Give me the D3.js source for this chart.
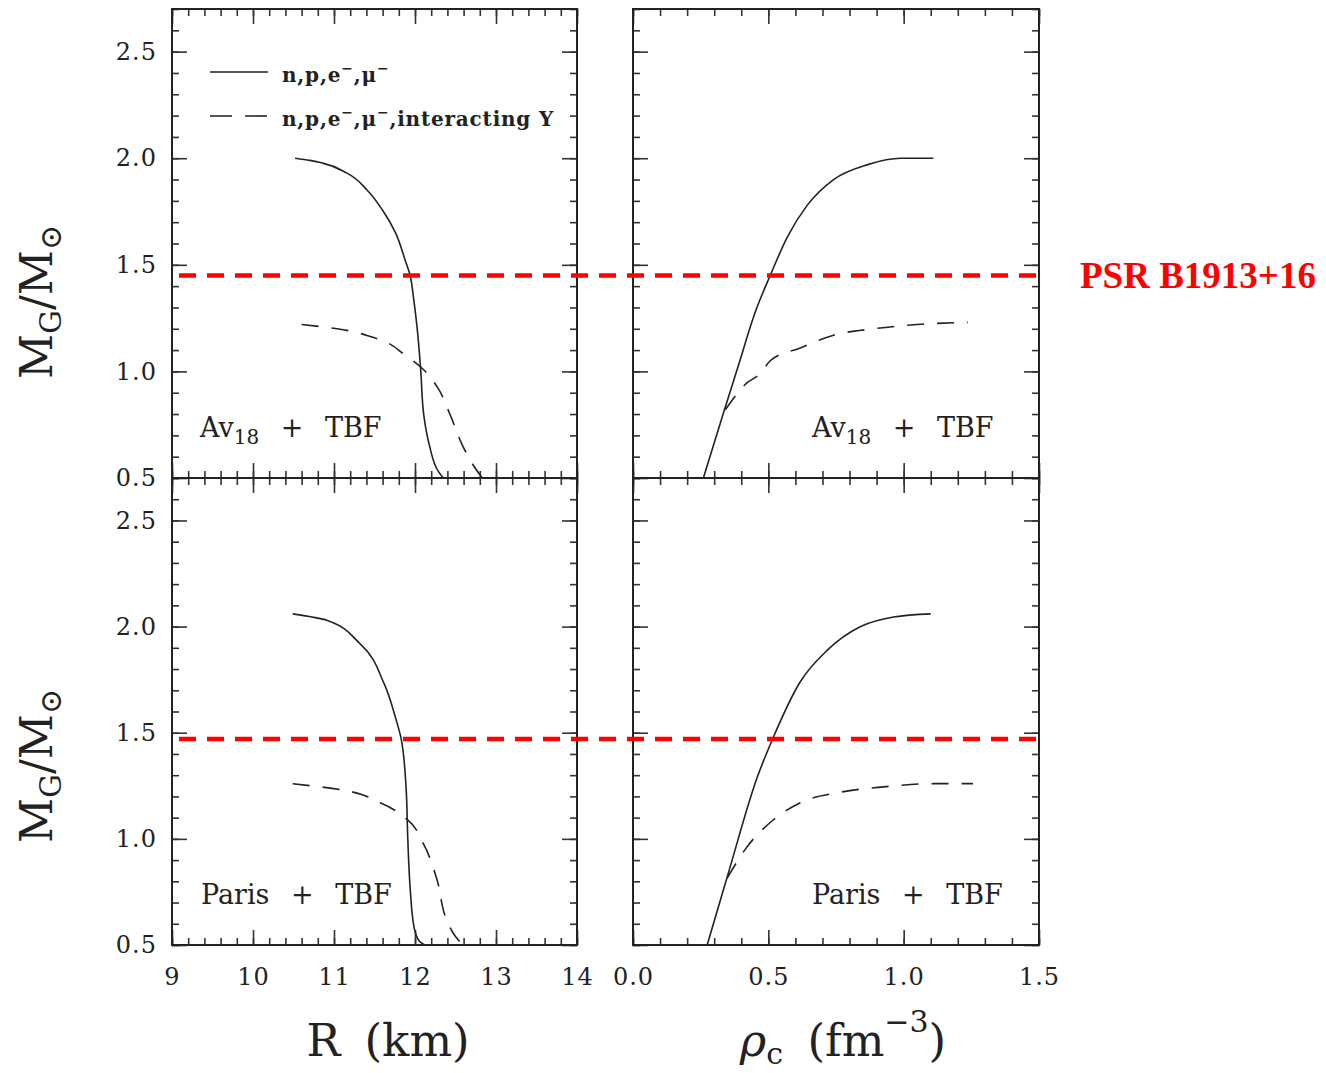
<!DOCTYPE html>
<html>
<head>
<meta charset="utf-8">
<script src="https://cdn.jsdelivr.net/npm/d3@7"></script>
<style>
  body { margin: 0; background: #fff; }
  text { font-family: "DejaVu Serif", serif; fill: #222; }
</style>
</head>
<body>
<script>
// tick values
const rTicks = [9, 10, 11, 12, 13, 14];
const rhoTicks = [0, 0.5, 1.0, 1.5];
const massTicks = [0.5, 1.0, 1.5, 2.0, 2.5];

// Av18 + TBF : [R (km), M/Msun] and [rho_c, M/Msun]
const avNpeR = [[10.52,2.00],[10.70,1.99],[10.86,1.977],[11.16,1.93],[11.41,1.85],[11.60,1.756],[11.76,1.65],[11.88,1.52],[11.94,1.45],[11.98,1.35],[12.03,1.19],[12.07,1.01],[12.11,0.79],[12.18,0.65],[12.29,0.53],[12.35,0.50]];
const avHypR = [[10.60,1.22],[11.04,1.20],[11.48,1.16],[11.90,1.07],[12.10,1.01],[12.27,0.93],[12.43,0.80],[12.59,0.65],[12.72,0.56],[12.83,0.50]];
const avNpeRho = [[0.26,0.50],[0.333,0.80],[0.385,1.01],[0.455,1.29],[0.507,1.45],[0.570,1.63],[0.644,1.78],[0.741,1.90],[0.867,1.97],[0.989,2.00],[1.11,2.00]];
const avHypRho = [[0.341,0.82],[0.42,0.945],[0.47,0.99],[0.507,1.05],[0.618,1.11],[0.741,1.17],[0.889,1.20],[1.05,1.22],[1.237,1.23]];

// Paris + TBF
const parisNpeR = [[10.49,2.06],[10.91,2.03],[11.32,1.92],[11.62,1.73],[11.76,1.57],[11.83,1.47],[11.89,1.24],[11.91,1.01],[11.94,0.77],[11.99,0.58],[12.05,0.52],[12.12,0.50]];
const parisHypR = [[10.49,1.26],[11.11,1.23],[11.57,1.17],[11.91,1.09],[12.10,0.98],[12.27,0.81],[12.39,0.62],[12.50,0.54],[12.59,0.50]];
const parisNpeRho = [[0.274,0.50],[0.348,0.82],[0.459,1.29],[0.519,1.48],[0.618,1.74],[0.719,1.89],[0.841,2.00],[0.963,2.045],[1.10,2.06]];
const parisHypRho = [[0.348,0.815],[0.42,0.96],[0.519,1.09],[0.618,1.17],[0.767,1.22],[0.926,1.245],[1.11,1.26],[1.256,1.26]];

// PSR B1913+16 mass line (top row, bottom row)
const psrMass = [1.45, 1.47];

const width = 1326, height = 1073;
const svg = d3.select('body').append('svg')
  .attr('width', width).attr('height', height);

const xR = d3.scaleLinear().domain([9, 14]).range([172, 577]);
const xRho = d3.scaleLinear().domain([0, 1.5]).range([633, 1039]);
const yTop = d3.scaleLinear().domain([0.5, 2.7]).range([478, 9]);
const yBot = d3.scaleLinear().domain([0.5, 2.7]).range([945, 478]);

const line = (x, y, curve) => d3.line().x(d => x(d[0])).y(d => y(d[1])).curve(curve);

function panel(x, y, opts) {
  const g = svg.append('g');
  const [x0, x1] = x.range(), [y0, y1] = y.range();
  const minorX = d3.range(x.domain()[0], x.domain()[1] + 1e-9, opts.xMinor);
  const minorY = d3.range(0.5, 2.7 + 1e-9, 0.1);
  const majorX = opts.xTicks, majorY = massTicks;

  const axes = [
    [d3.axisBottom(x), y0, 'x'], [d3.axisTop(x), y1, 'x'],
    [d3.axisLeft(y), x0, 'y'], [d3.axisRight(y), x1, 'y']
  ];
  axes.forEach(([ax, pos, dir]) => {
    [[dir === 'x' ? minorX : minorY, 7], [dir === 'x' ? majorX : majorY, 15]].forEach(([vals, len]) => {
      const a = g.append('g')
        .attr('transform', dir === 'x' ? `translate(0,${pos})` : `translate(${pos},0)`)
        .call(ax.tickValues(vals).tickSize(-len).tickFormat(''));
      a.select('.domain').remove();
      a.selectAll('line').attr('stroke', '#333').attr('stroke-width', 1.6);
    });
  });

  g.append('rect')
    .attr('x', x0).attr('y', y1).attr('width', x1 - x0).attr('height', y0 - y1)
    .attr('fill', 'none').attr('stroke', '#222').attr('stroke-width', 2);

  g.append('path').datum(opts.solid)
    .attr('d', line(x, y, opts.curve)).attr('fill', 'none')
    .attr('stroke', '#222').attr('stroke-width', 1.6);
  g.append('path').datum(opts.dashed)
    .attr('d', line(x, y, opts.curve)).attr('fill', 'none')
    .attr('stroke', '#222').attr('stroke-width', 1.6)
    .attr('stroke-dasharray', '17,13');

  // model label
  const t = g.append('text')
    .attr('x', opts.labelX).attr('y', y0 - 41)
    .attr('font-size', 27).attr('word-spacing', 13);
  if (opts.name === 'Av') {
    t.append('tspan').text('Av');
    t.append('tspan').attr('font-size', 20).attr('dy', 7).text('18');
    t.append('tspan').attr('dy', -7).text(' + TBF');
  } else {
    t.text('Paris + TBF');
  }

  if (opts.yLabels) {
    const a = g.append('g').attr('transform', `translate(${x0},0)`)
      .call(d3.axisLeft(y).tickValues(massTicks).tickSize(0).tickPadding(15).tickFormat(d3.format('.1f')));
    a.select('.domain').remove();
    a.selectAll('text').attr('font-size', 24).attr('letter-spacing', 1)
      .style('font-family', '"DejaVu Serif", serif').attr('fill', '#222');
  }
  if (opts.xLabels) {
    const a = g.append('g').attr('transform', `translate(0,${y0})`)
      .call(d3.axisBottom(x).tickValues(opts.xTicks).tickSize(0).tickPadding(23).tickFormat(opts.xFormat));
    a.select('.domain').remove();
    a.selectAll('text').attr('font-size', 24).attr('letter-spacing', 1)
      .style('font-family', '"DejaVu Serif", serif').attr('fill', '#222');
  }
}

panel(xR, yTop, { xTicks: rTicks, xMinor: 0.2, solid: avNpeR, dashed: avHypR, curve: d3.curveMonotoneY, name: 'Av', labelX: 200, yLabels: true });
panel(xRho, yTop, { xTicks: rhoTicks, xMinor: 0.1, solid: avNpeRho, dashed: avHypRho, curve: d3.curveMonotoneX, name: 'Av', labelX: 812 });
panel(xR, yBot, { xTicks: rTicks, xMinor: 0.2, solid: parisNpeR, dashed: parisHypR, curve: d3.curveMonotoneY, name: 'Paris', labelX: 201, yLabels: true, xLabels: true, xFormat: d3.format('d') });
panel(xRho, yBot, { xTicks: rhoTicks, xMinor: 0.1, solid: parisNpeRho, dashed: parisHypRho, curve: d3.curveMonotoneX, name: 'Paris', labelX: 812, xLabels: true, xFormat: d3.format('.1f') });

// legend
const leg = svg.append('g');
[['solid', null, 72], ['dashed', '22,13', 116]].forEach(([k, dash, yy], i) => {
  leg.append('line').attr('x1', 210).attr('x2', 268).attr('y1', yy).attr('y2', yy)
    .attr('stroke', '#222').attr('stroke-width', 1.6).attr('stroke-dasharray', dash);
  const t = leg.append('text').attr('x', 282).attr('y', yy + 10)
    .attr('font-size', 20).attr('font-weight', 'bold').attr('letter-spacing', 0.8);
  t.append('tspan').text('n,p,e');
  t.append('tspan').attr('dy', -9).attr('font-size', 14).text('−');
  t.append('tspan').attr('dy', 9).text(',μ');
  t.append('tspan').attr('dy', -9).attr('font-size', 14).text('−');
  if (i === 1) t.append('tspan').attr('dy', 9).text(',interacting Y');
});

// PSR B1913+16 lines
[[yTop, psrMass[0]], [yBot, psrMass[1]]].forEach(([y, m]) => {
  svg.append('line')
    .attr('x1', xR.range()[0] + 7).attr('x2', xRho.range()[1] - 3)
    .attr('y1', y(m)).attr('y2', y(m))
    .attr('stroke', '#f00').attr('stroke-width', 4.5).attr('stroke-dasharray', '17,11');
});
svg.append('text').attr('x', 1080).attr('y', yTop(psrMass[0]) + 13)
  .style('font-family', '"Liberation Serif", "Times New Roman", serif')
  .attr('font-weight', 'bold').attr('font-size', 37).style('fill', '#f00')
  .text('PSR B1913+16');

// y titles
[302, 766].forEach(cy => {
  const t = svg.append('text').attr('transform', `translate(52,${cy}) rotate(-90)`)
    .attr('text-anchor', 'middle').attr('font-size', 44);
  t.append('tspan').text('M');
  t.append('tspan').attr('font-size', 30).attr('dy', 9).text('G');
  t.append('tspan').attr('dy', -9).text('/M');
  t.append('tspan').attr('font-size', 30).attr('dy', 9).text('⊙');
});

// x titles
svg.append('text').attr('x', 388).attr('y', 1056).attr('text-anchor', 'middle')
  .attr('font-size', 45).attr('word-spacing', 10).text('R (km)');
const tr = svg.append('text').attr('x', 843).attr('y', 1056).attr('text-anchor', 'middle')
  .attr('font-size', 45).attr('word-spacing', 10);
tr.append('tspan').attr('font-style', 'italic').text('ρ');
tr.append('tspan').attr('font-size', 30).attr('dy', 8).text('c');
tr.append('tspan').attr('dy', -8).text(' (fm');
tr.append('tspan').attr('font-size', 30).attr('dy', -24).text('−3');
tr.append('tspan').attr('dy', 24).text(')');
</script>
</body>
</html>
